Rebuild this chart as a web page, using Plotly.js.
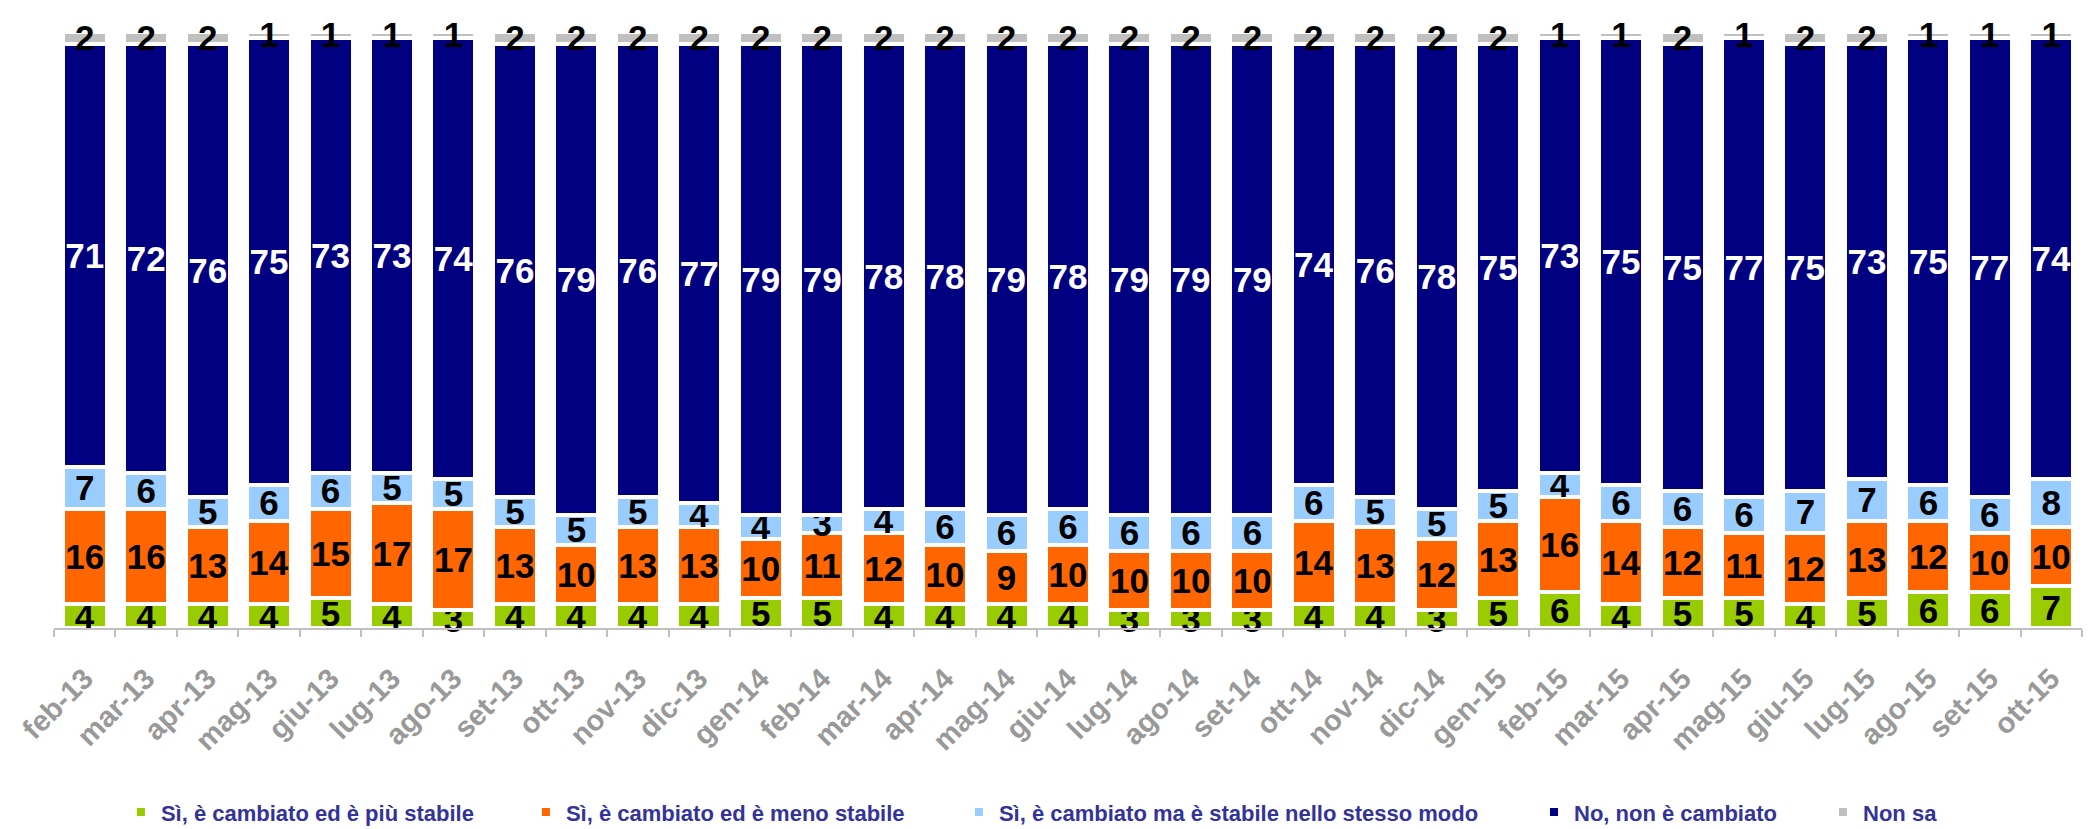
<!DOCTYPE html>
<html>
<head>
<meta charset="utf-8">
<script src="https://cdn.plot.ly/plotly-3.0.1.min.js"></script>
<style>html,body{margin:0;padding:0;background:#fff;}#chart{width:2095px;height:829px;}</style>
</head>
<body>
<div id="chart"></div>
<script>
const categories = ["feb-13","mar-13","apr-13","mag-13","giu-13","lug-13","ago-13","set-13","ott-13","nov-13","dic-13","gen-14","feb-14","mar-14","apr-14","mag-14","giu-14","lug-14","ago-14","set-14","ott-14","nov-14","dic-14","gen-15","feb-15","mar-15","apr-15","mag-15","giu-15","lug-15","ago-15","set-15","ott-15"];

const piuStabile   = [4,4,4,4,5,4,3,4,4,4,4,5,5,4,4,4,4,3,3,3,4,4,3,5,6,4,5,5,4,5,6,6,7];
const menoStabile  = [16,16,13,14,15,17,17,13,10,13,13,10,11,12,10,9,10,10,10,10,14,13,12,13,16,14,12,11,12,13,12,10,10];
const stessoModo   = [7,6,5,6,6,5,5,5,5,5,4,4,3,4,6,6,6,6,6,6,6,5,5,5,4,6,6,6,7,7,6,6,8];
const nonCambiato  = [71,72,76,75,73,73,74,76,79,76,77,79,79,78,78,79,78,79,79,79,74,76,78,75,73,75,75,77,75,73,75,77,74];
const nonSa        = [2,2,2,1,1,1,1,2,2,2,2,2,2,2,2,2,2,2,2,2,2,2,2,2,1,1,2,1,2,2,1,1,1];

const seriesNames = ["Sì, è cambiato ed è più stabile","Sì, è cambiato ed è meno stabile","Sì, è cambiato ma è stabile nello stesso modo","No, non è cambiato","Non sa"];
const seriesValues = [piuStabile, menoStabile, stessoModo, nonCambiato, nonSa];
const colors = ["#99CC00","#FF6600","#99CCFF","#000080","#C0C0C0"];
const textColors = ["#000000","#000000","#000000","#FFFFFF","#000000"];
const legendIds = ["legend","legend2","legend3","legend4","legend5"];
const legendX = [0.033, 0.2327, 0.4462, 0.7298, 0.8723];

const traces = seriesValues.map((vals, i) => ({
  type: "bar",
  name: seriesNames[i],
  legend: legendIds[i],
  x: categories,
  y: vals,
  text: vals.map(String),
  textposition: "inside",
  insidetextanchor: "middle",
  constraintext: "none",
  textangle: 0,
  cliponaxis: false,
  textfont: {family: "Liberation Sans, Arial, sans-serif", size: 35, color: textColors[i], weight: "bold"},
  marker: {color: colors[i], line: {color: "#FFFFFF", width: 4}},
  hoverinfo: "skip"
}));

const legendFont = {family: "Liberation Sans, Arial, sans-serif", size: 22, color: "#333399", weight: "bold"};

const layout = {
  width: 2095,
  height: 829,
  barmode: "stack",
  bargap: 0.284,
  paper_bgcolor: "#FFFFFF",
  plot_bgcolor: "#FFFFFF",
  margin: {l: 54, r: 13, t: 32, b: 201, pad: 0, autoexpand: false},
  showlegend: true,
  xaxis: {
    type: "category",
    showgrid: false,
    zeroline: false,
    showline: true,
    linecolor: "#C0C0C0",
    linewidth: 2,
    ticks: "outside",
    tickson: "boundaries",
    ticklen: 7,
    tickcolor: "#C0C0C0",
    tickwidth: 2,
    tickangle: -45,
    ticklabelstandoff: 20,
    tickfont: {family: "Liberation Sans, Arial, sans-serif", size: 29, color: "#999999", weight: "bold"},
    automargin: false,
    fixedrange: true
  },
  yaxis: {
    range: [0, 100],
    visible: false,
    showgrid: false,
    zeroline: false,
    fixedrange: true
  }
};

legendIds.forEach((id, i) => {
  layout[id] = {
    orientation: "h",
    x: legendX[i], xanchor: "left",
    y: -0.309, yanchor: "middle",
    font: legendFont,
    bgcolor: "rgba(0,0,0,0)"
  };
});

Plotly.newPlot("chart", traces, layout, {displayModeBar: false, staticPlot: true});
</script>
</body>
</html>
